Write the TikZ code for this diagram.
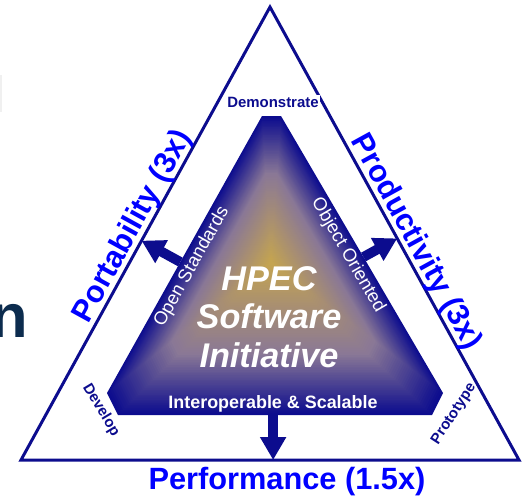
\documentclass[tikz,border=0pt]{standalone}
\usepackage{fontspec}
\setmainfont{Liberation Sans}
\usepackage[HTML]{xcolor}
\usetikzlibrary{positioning, arrows.meta, calc}

\definecolor{navy}{HTML}{0C0C8E}
\definecolor{mauve}{HTML}{8A7896}
\definecolor{gold}{HTML}{C4A451}
\definecolor{slate}{HTML}{0C2C4E}

\newcommand{\innerpath}{(262,116) -- (281,116) -- (443,393) -- (432,415) -- (118,415) -- (107,393) -- cycle}

\begin{document}
\begin{tikzpicture}[x=0.02cm, y=-0.02cm,
  side/.style={text=blue, font=\bfseries\fontsize{17.5}{20}\selectfont},
  corner/.style={text=navy, font=\bfseries\fontsize{8.5}{10}\selectfont, inner sep=1pt},
  inlabel/.style={text=white, font=\fontsize{10.5}{12}\selectfont, inner sep=2pt},
  bigarrow/.style={navy, line width=5.6pt, -{Triangle[width=14pt,length=13pt]}}]
\useasboundingbox (0,0) rectangle (530,497);

\fill[gray!12] (0,75) rectangle (2,112);
\node[anchor=base east, inner sep=0, text=slate, font=\bfseries\fontsize{35}{40}\selectfont] (cutn) at (28,337) {n};

\coordinate (ot) at (270,7);
\coordinate (ol) at (21,460);
\coordinate (or) at (519,460);
\draw[navy, line width=1.7pt] (ot) -- (or) -- (ol) -- cycle;

\foreach \i in {0,...,90}{
  \pgfmathsetmacro\s{1-\i/92}
  \pgfmathtruncatemacro\p{\i<36 ? \i*100/36 : (\i-36)*100/54}
  \ifnum\i<36 \colorlet{fillc}{mauve!\p!navy}\else\colorlet{fillc}{gold!\p!mauve}\fi
  \fill[fillc, scale around={\s:(271,262)}] \innerpath;
}

\coordinate (itl) at (262,116);
\coordinate (itr) at (281,116);
\coordinate (ir) at (443,393);
\coordinate (ibr) at (432,415);
\coordinate (ibl) at (118,415);
\coordinate (il) at (107,393);

\coordinate (ls) at ($(il)!0.473!(itl)$);
\coordinate (lt) at ($(ol)!(ls)!(ot)$);
\coordinate (rs) at ($(itr)!0.509!(ir)$);
\coordinate (rt) at ($(ot)!(rs)!(or)$);
\coordinate (bs) at ($(ibl)!0.494!(ibr)$);
\coordinate (bt) at ($(ol)!(bs)!(or)$);
\draw[bigarrow] (ls) -- (lt);
\draw[bigarrow] (rs) -- (rt);
\draw[bigarrow] (bs) -- (bt);

\path (ol) -- (ot) node[side, sloped, anchor=base, inner sep=0, pos=0.5, yshift=3.5pt] (port) {Portability (3x)};
\path (ot) -- (or) node[side, sloped, anchor=base, inner sep=0, pos=0.535, yshift=3.5pt] (prod) {Productivity (3x)};
\node[side, anchor=base, inner sep=0] (perf) at (287,489) {Performance (1.5x)};

\path (il) -- (itl) node[inlabel, sloped, below, pos=0.477] (open) {Open Standards};
\path (itr) -- (ir) node[inlabel, sloped, below, pos=0.48] (obj) {Object Oriented};
\node[text=white, font=\bfseries\fontsize{10.2}{12}\selectfont] (interop) at (273,404) {Interoperable \& Scalable};
\node[text=white, align=center, font=\bfseries\itshape\fontsize{19.5}{22}\selectfont] (hpec) at (269,317) {HPEC\\Software\\Initiative};

\node[corner, fill=white] (demo) at (273,102) {Demonstrate};
\node[corner, rotate=-59] (dev) at (101,410) {Develop};
\node[corner, rotate=57] (proto) at (454,414) {Prototype};
\end{tikzpicture}
\end{document}
